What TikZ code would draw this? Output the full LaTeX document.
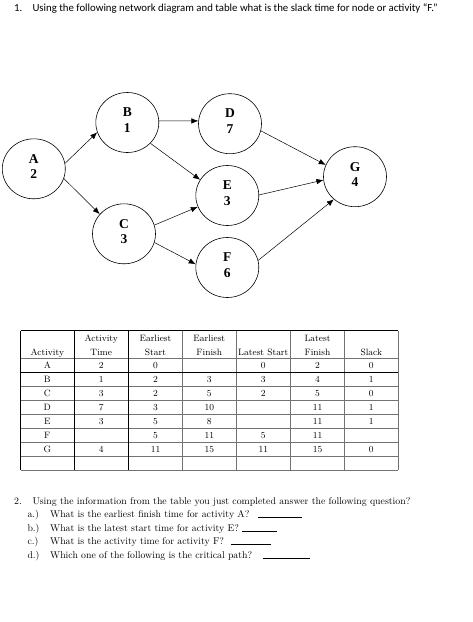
\documentclass[tikz,border=0pt]{standalone}
\usepackage{fontspec}
\setmainfont{Latin Modern Roman}
\newfontfamily\timesf{Liberation Serif}
\newfontfamily\calib{Carlito}
\usetikzlibrary{arrows.meta,shapes.geometric}
\begin{document}
\begin{tikzpicture}[x=1pt,y=-1pt,
  stage/.style={draw,ellipse,line width=0.6pt,minimum width=63pt,minimum height=60pt,inner sep=0pt},
  stagetext/.style={font=\timesf\bfseries\fontsize{13.5}{15.3}\selectfont,align=center,inner sep=0pt},
  conn/.style={line width=0.5pt,-{Latex[length=7pt,width=5.5pt]}},
  cell/.style={font=\fontsize{9.2}{14}\selectfont,inner sep=0pt,anchor=base},
  head/.style={font=\fontsize{9.2}{14}\selectfont,inner sep=0pt,anchor=base,align=center},
  thin/.style={draw=black!55,line width=0.5pt},
  thick/.style={draw=black,line width=0.9pt},
  qtext/.style={font=\fontsize{9.8}{12}\selectfont,inner sep=0pt,anchor=base west},
  blank/.style={line width=0.5pt},
  ttext/.style={font=\calib\fontsize{10.8}{12}\selectfont,inner sep=0pt,anchor=base west}
]
\useasboundingbox (0,0) rectangle (472,622);
% title
\node[ttext] (n1) at (14,11) {1.};
\node[ttext] (t1) at (32.3,11) {Using the following network diagram and table what is the slack time for node or activity “F.”};
% network
\node[stage] (A) at (33.8,168.8) {};
\node[stage] (B) at (127.3,122.5) {};
\node[stage] (C) at (124,233.8) {};
\node[stage] (D) at (230,123.7) {};
\node[stage] (E) at (227.3,195.5) {};
\node[stage] (F) at (227.3,267.5) {};
\node[stage] (G) at (355,176.7) {};
\node[stagetext,yshift=2.5pt] (At) at (A.center) {A\\2};
\node[stagetext,yshift=2.5pt] (Bt) at (B.center) {B\\1};
\node[stagetext,yshift=2.5pt] (Ct) at (C.center) {C\\3};
\node[stagetext,yshift=2.5pt] (Dt) at (D.center) {D\\7};
\node[stagetext,yshift=2.5pt] (Et) at (E.center) {E\\3};
\node[stagetext,yshift=2.5pt] (Ft) at (F.center) {F\\6};
\node[stagetext,yshift=2.5pt] (Gt) at (G.center) {G\\4};
\draw[conn] (A.10) -- (B.198);
\draw[conn] (A.-18) -- (C.141);
\draw[conn] (B.3) -- (D.175);
\draw[conn] (B.-42.5) -- (E.150.6);
\draw[conn] (C.16.7) -- (E.201.7);
\draw[conn] (C.-16) -- (F.174.5);
\draw[conn] (D.-13) -- (G.158.6);
\draw[conn] (E.1) -- (G.186);
\draw[conn] (F.13.6) -- (G.227);
% table lines
\foreach \y in {358.3,386.3,400.3,414.3,428.3,442.3,456.3,470.3}
  \draw[thin] (20.7,\y) -- (398.3,\y);
\foreach \x in {182.7,236,290.7,344.3,398.3}
  \draw[thin] (\x,330.7) -- (\x,470.3);
\draw[thick] (20.7,330.7) -- (398.3,330.7);
\draw[thick] (20.7,372.3) -- (398.3,372.3);
\foreach \x in {20.7,74,128.3}
  \draw[thick,line width=0.7pt] (\x,330.7) -- (\x,470.3);
% headers
\node[head] (h1) at (47.3,355) {Activity};
\node[head] (h2a) at (101.2,341) {Activity};
\node[head] (h2b) at (101.2,355) {Time};
\node[head] (h3a) at (155.5,341) {Earliest};
\node[head] (h3b) at (155.5,355) {Start};
\node[head] (h4a) at (209.3,341) {Earliest};
\node[head] (h4b) at (209.3,355) {Finish};
\node[head] (h5) at (263.3,355) {Latest Start};
\node[head] (h6a) at (317.5,341) {Latest};
\node[head] (h6b) at (317.5,355) {Finish};
\node[head] (h7) at (371.3,355) {Slack};
% rows
\foreach \r/\a/\b/\c/\d/\e/\f/\g [count=\i] in {
  A/2/0//0/2/0,
  B/1/2/3/3/4/1,
  C/3/2/5/2/5/0,
  D/7/3/10//11/1,
  E/3/5/8//11/1,
  F//5/11/5/11/,
  G/4/11/15/11/15/0}{
  \pgfmathsetmacro{\yb}{358.3+14*\i-4}
  \node[cell] (r\i c1) at (47.3,\yb) {\r};
  \node[cell] (r\i c2) at (101.2,\yb) {\a};
  \node[cell] (r\i c3) at (155.5,\yb) {\b};
  \node[cell] (r\i c4) at (209.3,\yb) {\c};
  \node[cell] (r\i c5) at (263.3,\yb) {\d};
  \node[cell] (r\i c6) at (317.5,\yb) {\e};
  \node[cell] (r\i c7) at (371.3,\yb) {\f};
}
% questions
\node[qtext] (q2) at (14,504) {2.};
\node[qtext] (q2t) at (32.3,504) {Using the information from the table you just completed answer the following question?};
\node[qtext] (qa) at (27.3,517.5) {a.)};
\node[qtext] (qat) at (50,517.5) {What is the earliest finish time for activity A?};
\node[qtext] (qb) at (27.3,531) {b.)};
\node[qtext] (qbt) at (50,531) {What is the latest start time for activity E?};
\node[qtext] (qc) at (27.3,544.5) {c.)};
\node[qtext] (qct) at (50,544.5) {What is the activity time for activity F?};
\node[qtext] (qd) at (27.3,558) {d.)};
\node[qtext] (qdt) at (50,558) {Which one of the following is the critical path?};
\coordinate (ba1) at (258,517.7); \coordinate (ba2) at (301.7,517.7);
\coordinate (bb1) at (242.3,531.5); \coordinate (bb2) at (276.7,531.5);
\coordinate (bc1) at (231,544.5); \coordinate (bc2) at (270.7,544.5);
\coordinate (bd1) at (263.3,558.3); \coordinate (bd2) at (310,558.3);
\draw[blank] (ba1) -- (ba2);
\draw[blank] (bb1) -- (bb2);
\draw[blank] (bc1) -- (bc2);
\draw[blank] (bd1) -- (bd2);
\end{tikzpicture}
\end{document}
